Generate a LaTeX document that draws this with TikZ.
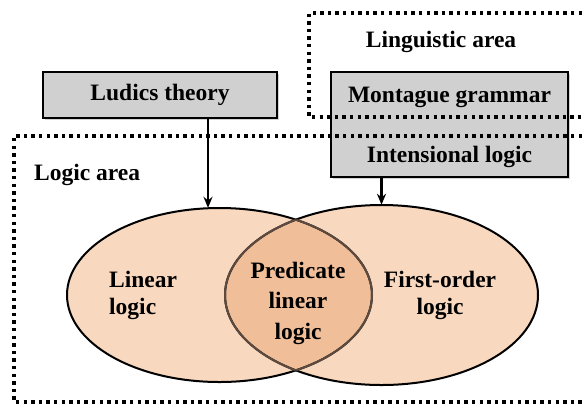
\documentclass[tikz,border=0pt]{standalone}
\usepackage{fontspec}
\setmainfont{Liberation Serif}[BoldFont={Liberation Serif Bold}]
\usetikzlibrary{shapes.geometric,arrows.meta,shadows}
\definecolor{peach}{HTML}{F8D8BE}
\definecolor{lenscol}{HTML}{F0BE98}
\definecolor{boxgray}{HTML}{D0D0D0}
\definecolor{lensline}{HTML}{5E4B40}
\begin{document}
\begin{tikzpicture}[x=1pt,y=-1pt,
  lbl/.style={font=\bfseries\fontsize{23.5}{27}\selectfont, inner sep=0pt, align=center},
  grbox/.style={draw=black, line width=2.8pt, fill=boxgray, drop shadow={shadow xshift=2pt, shadow yshift=-2pt, opacity=0.35}},
  dotbox/.style={line width=3.6pt, dash pattern=on 3.4pt off 4.2pt},
  arr/.style={-{Stealth[length=11pt,width=9pt]}, line width=2.2pt},
  ell/.style={ellipse, inner sep=0pt, fill=peach}]
\useasboundingbox (0,0) rectangle (585,408);
% ellipses (fills)
\node[ell, minimum width=305pt, minimum height=174pt] (L) at (219.5,295) {};
\node[ell, minimum width=313pt, minimum height=180pt] (R) at (381.5,295) {};
\begin{scope}
  \clip (219.5,295) ellipse [x radius=152.5, y radius=87];
  \fill[lenscol] (381.5,295) ellipse [x radius=156.5, y radius=90];
\end{scope}
% outlines
\draw[line width=2pt] (219.5,295) ellipse [x radius=152.5, y radius=87];
\draw[line width=2pt] (381.5,295) ellipse [x radius=156.5, y radius=90];
\begin{scope}
  \clip (381.5,295) ellipse [x radius=156.5, y radius=90];
  \draw[line width=2pt, lensline] (219.5,295) ellipse [x radius=152.5, y radius=87];
\end{scope}
\begin{scope}
  \clip (219.5,295) ellipse [x radius=152.5, y radius=87];
  \draw[line width=2pt, lensline] (381.5,295) ellipse [x radius=156.5, y radius=90];
\end{scope}
% ellipse texts
\node[lbl, align=left, anchor=west] (lt) at (109,295) {Linear\\logic};
\node[lbl, font=\bfseries\fontsize{23.5}{30.5}\selectfont] (pt) at (298,303) {Predicate\\linear\\logic};
\node[lbl] (ft) at (440,295) {First-order\\logic};
% boxes
\node[grbox, lbl, minimum width=234pt, minimum height=46pt] (lud) at (160,95) {Ludics theory};
\node[grbox, minimum width=237pt, minimum height=105pt] (mon) at (449.5,124.5) {};
\node[lbl] (mg) at (449.5,97) {Montague grammar};
\node[lbl] (il) at (449.5,157) {Intensional logic};
% dotted areas
\begin{scope}
  \clip (0,0) rectangle (585,408);
  \draw[dotbox] (620,136) -- (14,136) -- (14,402) -- (620,402);
  \draw[dotbox] (620,13) -- (309,13) -- (309,117) -- (620,117);
\end{scope}
\node[lbl, anchor=west] (la) at (34,175) {Logic area};
\node[lbl] (lg) at (441,42) {Linguistic area};
% arrows
\coordinate (a1) at (208,0);
\draw[arr] (lud.south -| a1) -- (a1 |- L.north);
\draw[arr] (mon.south -| R.north) -- (R.north);
\end{tikzpicture}
\end{document}
